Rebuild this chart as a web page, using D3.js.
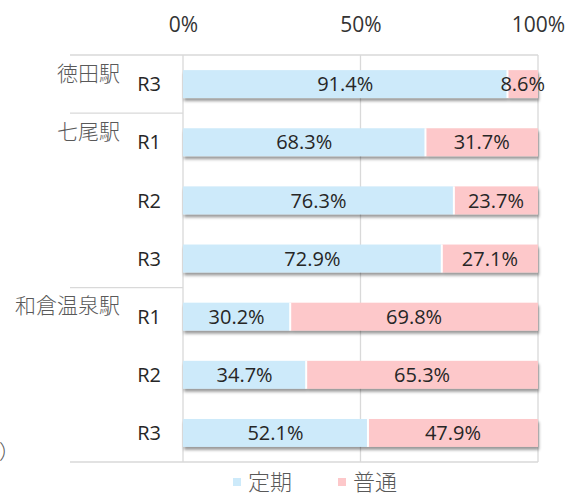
<!DOCTYPE html>
<html>
<head>
<meta charset="utf-8">
<script src="https://cdn.jsdelivr.net/npm/d3@7"></script>
<style>
  body { margin: 0; background: #fff; }
  svg { display: block; font-family: "Open Sans", "Noto Sans CJK JP", sans-serif; }
</style>
</head>
<body>
<div id="chart"></div>
<script>
// data
const stations = ["徳田駅", "七尾駅", "和倉温泉駅"];
const rowStation = ["徳田駅", "七尾駅", "七尾駅", "七尾駅", "和倉温泉駅", "和倉温泉駅", "和倉温泉駅"];
const rowYear = ["R3", "R1", "R2", "R3", "R1", "R2", "R3"];
const teiki = [91.4, 68.3, 76.3, 72.9, 30.2, 34.7, 52.1];
const futsu = [8.6, 31.7, 23.7, 27.1, 69.8, 65.3, 47.9];
const seriesNames = ["定期", "普通"];
const ticks = [0, 50, 100];

const width = 578, height = 495;
const colors = ["#cdeafa", "#fdc8ca"];

const svg = d3.select("#chart").append("svg")
  .attr("width", width)
  .attr("height", height);

const defs = svg.append("defs");
const f = defs.append("filter").attr("id", "shadow")
  .attr("x", "-5%").attr("y", "-30%").attr("width", "110%").attr("height", "180%");
f.append("feDropShadow")
  .attr("dx", 1).attr("dy", 3)
  .attr("stdDeviation", 1.6)
  .attr("flood-color", "#000")
  .attr("flood-opacity", 0.4);

const rows = rowYear.map((y, i) => i);

const x = d3.scaleLinear().domain([0, 100]).range([183, 538]);
const yb = d3.scaleBand().domain(rows).range([55, 462]).paddingInner(0.52).paddingOuter(0.26);
const step = yb.step();
const y0 = 55, y1 = 462;

// gridlines
const grid = svg.append("g").attr("stroke", "#d9d9d9").attr("stroke-width", 1.3);
ticks.forEach(t => {
  grid.append("line").attr("x1", x(t)).attr("x2", x(t)).attr("y1", y0).attr("y2", y1);
});
grid.append("line").attr("x1", 70).attr("x2", x(100)).attr("y1", y0).attr("y2", y0);
grid.append("line").attr("x1", 70).attr("x2", x(100)).attr("y1", y1).attr("y2", y1);

// group separators on the left
const groupStart = stations.map(s => rowStation.indexOf(s));
groupStart.slice(1).forEach(i => {
  const yy = y0 + step * i;
  grid.append("line").attr("x1", 70).attr("x2", x(0)).attr("y1", yy).attr("y2", yy);
});

// top axis
const axis = svg.append("g")
  .attr("transform", "translate(0,32)")
  .call(d3.axisTop(x).tickValues(ticks).tickFormat(d => d + "%").tickSize(0).tickPadding(0));
axis.select(".domain").remove();
axis.selectAll("text")
  .attr("font-size", 21)
  .attr("fill", "#333")
  .attr("font-family", "'Open Sans', sans-serif");

// bars
const rowG = svg.selectAll("g.row")
  .data(rows)
  .enter().append("g")
  .attr("class", "row")
  .attr("filter", "url(#shadow)");

rowG.append("rect")
  .attr("x", i => x(0))
  .attr("y", i => yb(i))
  .attr("width", i => x(teiki[i]) - x(0))
  .attr("height", yb.bandwidth())
  .attr("fill", colors[0]);

rowG.append("rect")
  .attr("x", i => x(teiki[i]))
  .attr("y", i => yb(i))
  .attr("width", i => x(100) - x(teiki[i]))
  .attr("height", yb.bandwidth())
  .attr("fill", colors[1]);

// white separators between segments
svg.selectAll("line.sep")
  .data(rows)
  .enter().append("line")
  .attr("x1", i => x(teiki[i])).attr("x2", i => x(teiki[i]))
  .attr("y1", i => yb(i)).attr("y2", i => yb(i) + yb.bandwidth())
  .attr("stroke", "#fff").attr("stroke-width", 2);

// value labels
const lbl = svg.append("g")
  .attr("font-size", 20)
  .attr("fill", "#262626")
  .attr("text-anchor", "middle");
rows.forEach(i => {
  const cy = yb(i) + yb.bandwidth() / 2;
  lbl.append("text")
    .attr("x", x(teiki[i] / 2))
    .attr("y", cy).attr("dy", "0.36em")
    .text(teiki[i].toFixed(1) + "%");
  lbl.append("text")
    .attr("x", x(teiki[i] + futsu[i] / 2))
    .attr("y", cy).attr("dy", "0.36em")
    .text(futsu[i].toFixed(1) + "%");
});

// year labels
svg.append("g")
  .attr("font-size", 20)
  .attr("fill", "#262626")
  .attr("text-anchor", "end")
  .selectAll("text")
  .data(rows)
  .enter().append("text")
  .attr("x", 161)
  .attr("y", i => yb(i) + yb.bandwidth() / 2)
  .attr("dy", "0.36em")
  .text(i => rowYear[i]);

// station labels
svg.append("g")
  .attr("font-size", 21)
  .attr("font-weight", 300)
  .attr("fill", "#595959")
  .attr("font-family", "'Noto Sans CJK JP', sans-serif")
  .attr("text-anchor", "end")
  .selectAll("text")
  .data(stations)
  .enter().append("text")
  .attr("x", 120)
  .attr("y", (s, k) => y0 + step * groupStart[k] + 18)
  .attr("dy", "0.36em")
  .text(s => s);

// cut-off note on the left
svg.append("text")
  .attr("x", -1).attr("y", 452)
  .attr("dy", "0.36em")
  .attr("font-size", 20)
  .attr("font-weight", 300)
  .attr("fill", "#595959")
  .attr("font-family", "'Noto Sans CJK JP', sans-serif")
  .text("）");

// legend
const legX = [233, 338];
const leg = svg.append("g").attr("font-family", "'Noto Sans CJK JP', sans-serif");
seriesNames.forEach((n, k) => {
  leg.append("rect")
    .attr("x", legX[k]).attr("y", 478)
    .attr("width", 8).attr("height", 8)
    .attr("fill", colors[k]);
  leg.append("text")
    .attr("x", legX[k] + 15).attr("y", 482)
    .attr("dy", "0.36em")
    .attr("font-size", 22)
    .attr("font-weight", 300)
    .attr("fill", "#595959")
    .text(n);
});
</script>
</body>
</html>
